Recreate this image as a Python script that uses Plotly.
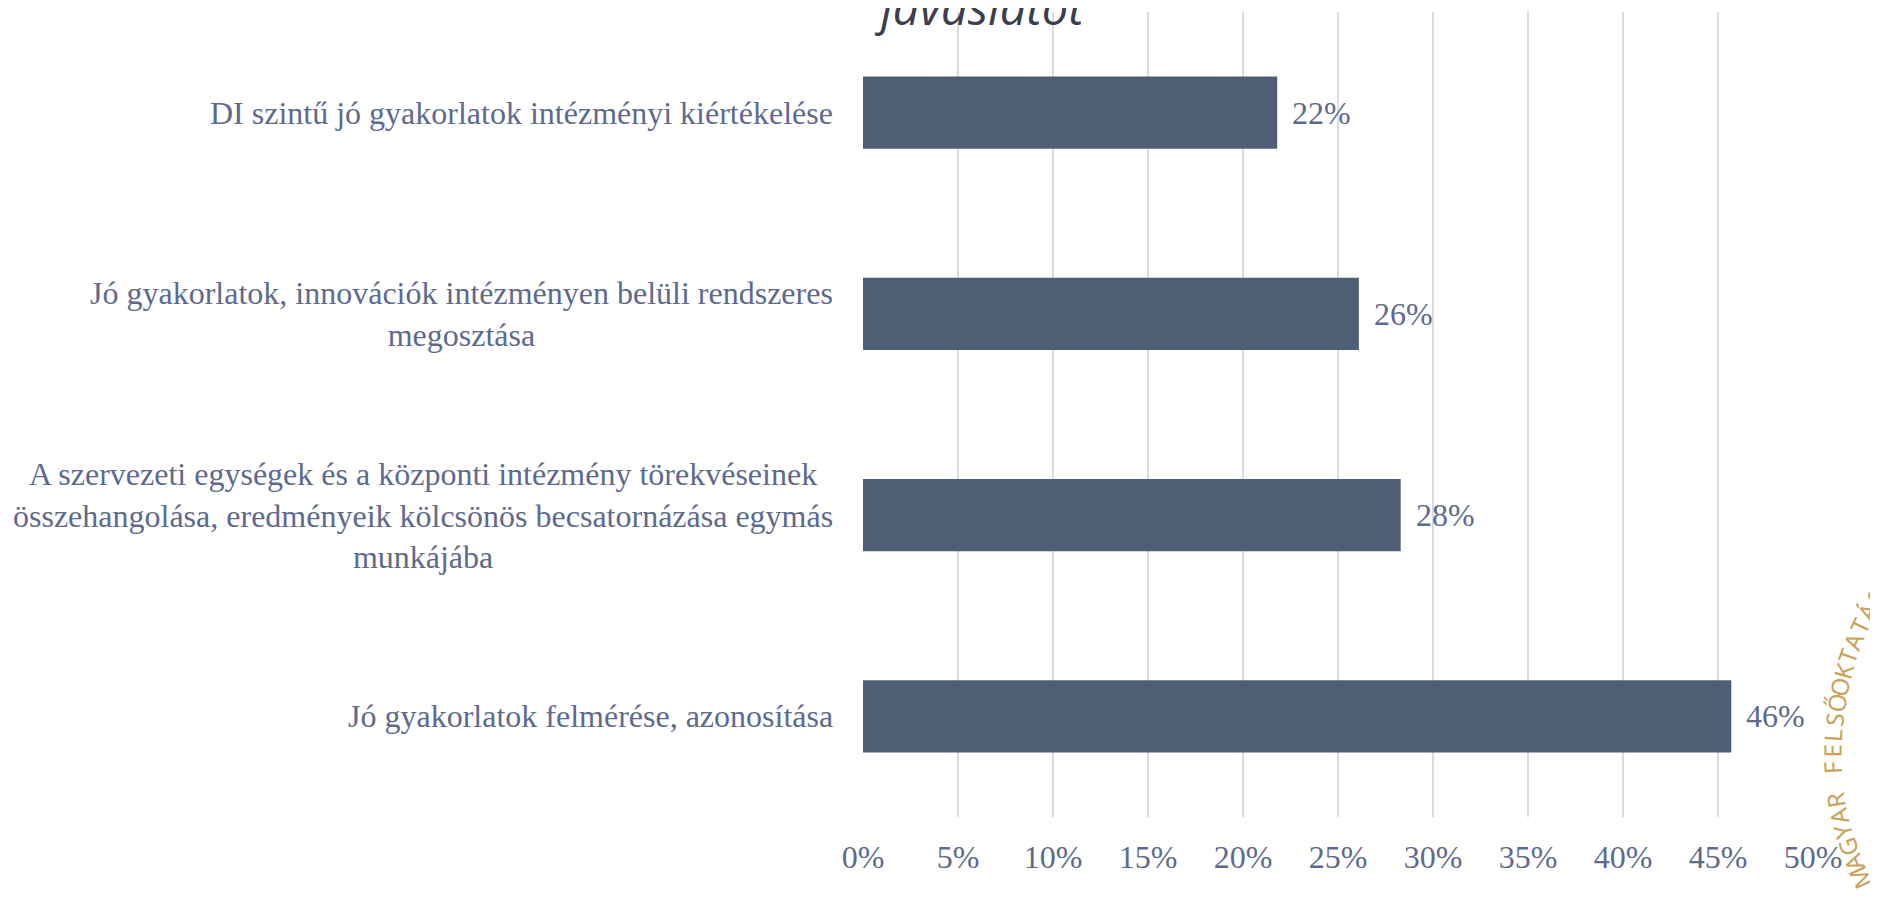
import math

import plotly.graph_objects as go

# categories listed top to bottom, as in the chart
categories = [
    "DI szintű jó gyakorlatok intézményi kiértékelése",
    "Jó gyakorlatok, innovációk intézményen belüli rendszeres<br>megosztása",
    "A szervezeti egységek és a központi intézmény törekvéseinek<br>összehangolása, eredményeik kölcsönös becsatornázása egymás<br>munkájába",
    "Jó gyakorlatok felmérése, azonosítása",
]
shares = [0.218, 0.261, 0.283, 0.457]
tick_values = [0, 0.05, 0.10, 0.15, 0.20, 0.25, 0.30, 0.35, 0.40, 0.45, 0.50]
tick_labels = ["0%", "5%", "10%", "15%", "20%", "25%", "30%", "35%", "40%", "45%", "50%"]
title_text = "javaslatot"
watermark = "MAGYAR FELSŐOKTATÁS,"

# the page body has an 8px margin, so the figure is drawn 8px in from the corner
OFF = 8
W, H = 1878, 901
L, R, T, B = 863, 65, 12, 84
PW, PH = W - L - R, H - T - B

BAR = "#4e5e74"
TXT = "#5d6a8e"
GRID = "#d9dce4"
SERIF = "Liberation Serif"

fig = go.Figure(
    go.Bar(
        x=shares,
        y=categories,
        orientation="h",
        marker=dict(color=BAR, line=dict(width=0)),
        hoverinfo="skip",
    )
)

annotations = []
for cat in categories:
    annotations.append(dict(
        x=0, xref="paper", y=cat, yref="y", xshift=-28,
        xanchor="right", yanchor="middle", align="center",
        text=cat, showarrow=False,
        font=dict(family=SERIF, size=32, color=TXT),
    ))
for cat, v in zip(categories, shares):
    annotations.append(dict(
        x=v, xref="x", y=cat, yref="y", xshift=13,
        xanchor="left", yanchor="middle",
        text=f"{round(v * 100)}%", showarrow=False,
        font=dict(family=SERIF, size=32, color=TXT),
    ))

# cut-off slide title at the top
annotations.append(dict(
    x=(872 - L) / PW, xref="paper", y=1, yref="paper", yshift=5,
    xanchor="left", yanchor="middle",
    text=f"<i>{title_text}</i>", showarrow=False,
    font=dict(family="Open Sans", size=47, color="#3a3f4f"),
))

# curved watermark on the right edge
cx, cy, rad = 2132, 752, 300
phi = 155.3
for ch in watermark:
    if ch != " ":
        px = cx + rad * math.cos(math.radians(phi))
        py = cy + rad * math.sin(math.radians(phi))
        annotations.append(dict(
            x=(px - L) / PW, xref="paper", y=(H - B - py) / PH, yref="paper",
            xanchor="center", yanchor="middle",
            text=ch, showarrow=False, textangle=phi - 270,
            font=dict(family="Noto Sans", size=24, color="#c9a257"),
        ))
    phi += 3.1

fig.update_layout(
    width=W - OFF,
    height=H - OFF,
    margin=dict(l=L - OFF, r=R, t=T - OFF, b=B, pad=0),
    plot_bgcolor="white",
    paper_bgcolor="white",
    bargap=0.64,
    showlegend=False,
    annotations=annotations,
    xaxis=dict(
        range=[0, 0.5],
        tickvals=tick_values,
        ticktext=tick_labels,
        showgrid=True,
        gridcolor=GRID,
        gridwidth=1.5,
        zeroline=False,
        showline=False,
        ticks="outside",
        ticklen=12,
        tickcolor="rgba(0,0,0,0)",
        tickfont=dict(family=SERIF, size=32, color=TXT),
        fixedrange=True,
    ),
    yaxis=dict(
        autorange="reversed",
        showticklabels=False,
        showgrid=False,
        zeroline=False,
        showline=False,
        fixedrange=True,
    ),
)

fig.write_html("out.html")
